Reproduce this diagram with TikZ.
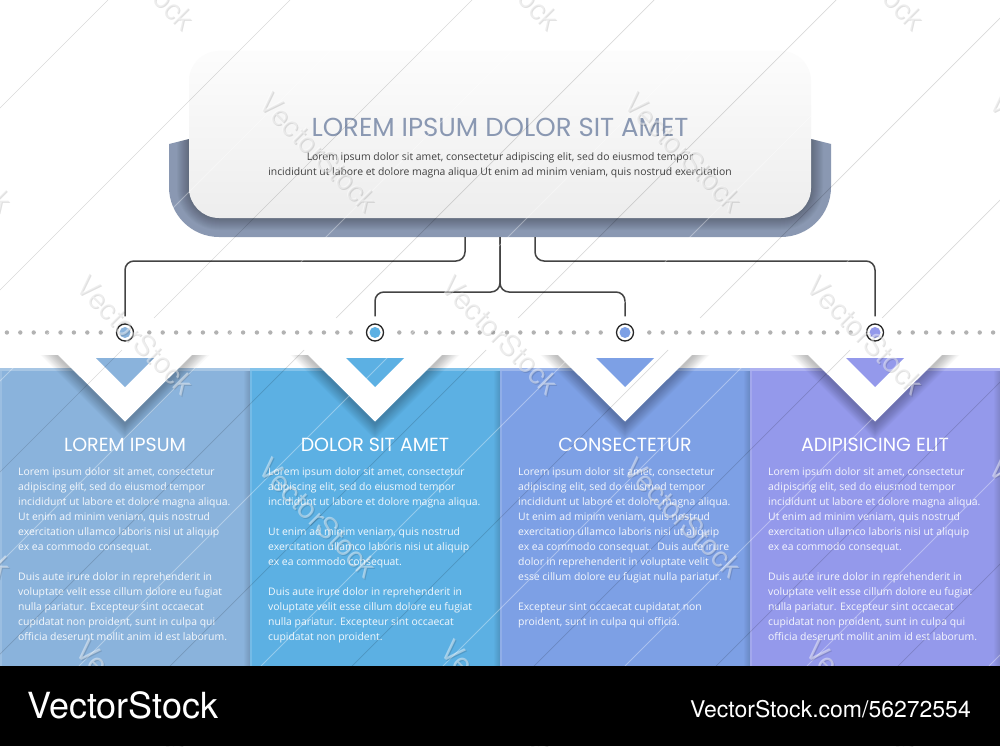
\documentclass[tikz,border=0pt]{standalone}
\usepackage{fontspec}
\usepackage{tikz}
\usetikzlibrary{calc}
\newfontfamily\headfont{Poppins}
\newfontfamily\bodyfont{Open Sans}
\newfontfamily\markfont{TeX Gyre Heros}
\definecolor{paneA}{HTML}{8AB3DC}
\definecolor{paneB}{HTML}{5CB0E3}
\definecolor{paneC}{HTML}{7DA0E5}
\definecolor{paneD}{HTML}{9499EB}
\definecolor{slate}{HTML}{8A98B2}
\definecolor{wire}{HTML}{444444}
\tikzset{
	link/.style={line width=1.5pt, wire, rounded corners=9pt, shorten >=7pt},
	dotnode/.style={circle, draw=black!85, line width=1.3pt, fill=white, minimum size=17pt, inner sep=0pt},
	headtext/.style={white, inner sep=0pt, font=\headfont\fontsize{19}{19}\selectfont},
	bodytext/.style={anchor=north west, align=left, inner sep=0pt, white, text opacity=.92, font=\bodyfont\fontsize{10.4}{15}\selectfont},
	wmtext/.style={rotate=-45, inner sep=0pt, font=\markfont\fontsize{29}{29}\selectfont},
	wmline/.style={line width=.7pt, black, opacity=.15},
	wmlight/.style={line width=.8pt, white, opacity=.35},
}
\begin{document}
\begin{tikzpicture}[x=1pt, y=-1pt]
		\useasboundingbox (0,0) rectangle (1000,746);
		\fill[white] (0,0) rectangle (1000,746);
		% panels
		\foreach \px/\col in {0/paneA,250/paneB,500/paneC,750/paneD} {
			\fill[\col] (\px,368) rectangle (\px+250,666);
			\fill[white, opacity=.25] (\px,368) rectangle (\px+250,371);
			\fill[white, opacity=.15] (\px,371) rectangle (\px+2,666);
			\foreach \w in {1,...,6}
				\fill[black, opacity=.02] (\px+250-\w,371) rectangle (\px+250,666);
		}
		% chevrons
		\foreach \cx/\col in {125/paneA,375/paneB,625/paneC,875/paneD} {
			\begin{scope}[shift={(\cx,0)}]
				\begin{scope}
					\clip (-90,355) rectangle (90,445);
					\foreach \w in {2,4,...,22}
						\draw[black, opacity=.022, line width=\w pt] (-90,334) -- (0,424) -- (90,334);
				\end{scope}
				\fill[white] (-90,332) -- (0,421.5) -- (90,332) -- cycle;
				\fill[\col] (-29,358) -- (29,358) -- (0,387) -- cycle;
			\end{scope}
		}
		% band and card
		\fill[slate] (189,139) -- (169,144) -- (169,187) arc (180:90:50) -- (781,237) arc (90:0:50) -- (831,144) -- (811,139) -- cycle;
		\begin{scope}
			\clip (189,139) -- (169,144) -- (169,187) arc (180:90:50) -- (781,237) arc (90:0:50) -- (831,144) -- (811,139) -- cycle;
			\foreach \w in {2,4,...,24}
				\draw[black, opacity=.022, line width=\w pt, rounded corners=30pt] (189,51) rectangle (811,218);
		\end{scope}
		\shade[top color=white!99!black, bottom color=black!7, rounded corners=30pt] (189,51) rectangle (811,218);
		\node[inner sep=0pt, slate, font=\headfont\fontsize{26}{26}\selectfont] (title) at (500,127) {LOREM IPSUM DOLOR SIT AMET};
		\node[inner sep=0pt, align=center, black!75, font=\bodyfont\fontsize{10.4}{15}\selectfont] (intro) at (500,165.5) {Lorem ipsum dolor sit amet, consectetur adipiscing elit, sed do eiusmod tempor\\incididunt ut labore et dolore magna aliqua Ut enim ad minim veniam, quis nostrud exercitation};
		% dotted rule
		\foreach \cx in {125,375,625,875}
			\foreach \k in {0,...,7} {
				\fill[black!30] (\cx+24.3+13.4*\k,332.5) circle (2.2);
				\fill[black!30] (\cx-24.3-13.4*\k,332.5) circle (2.2);
			}
		% connectors
		\coordinate (tapA) at (465,237);
		\coordinate (tapB) at (500,237);
		\coordinate (tapC) at (535,237);
		\node[dotnode] (dotA) at (125,332.5) {};
		\node[dotnode] (dotB) at (375,332.5) {};
		\node[dotnode] (dotC) at (625,332.5) {};
		\node[dotnode] (dotD) at (875,332.5) {};
		\fill[paneA] (dotA) circle (5.5);
		\fill[paneB] (dotB) circle (5.5);
		\fill[paneC] (dotC) circle (5.5);
		\fill[paneD] (dotD) circle (5.5);
		\draw[link] (tapA) -- (tapA |- 0,261) -- (dotA |- 0,261) -- (dotA.north);
		\draw[link] (tapB) -- (tapB |- 0,292) -- (dotB |- 0,292) -- (dotB.north);
		\draw[link] (tapB) -- (tapB |- 0,292) -- (dotC |- 0,292) -- (dotC.north);
		\draw[link] (tapC) -- (tapC |- 0,261) -- (dotD |- 0,261) -- (dotD.north);
		% panel texts
		\node[headtext] (headA) at (125,445) {LOREM IPSUM};
		\node[headtext] (headB) at (375,445) {DOLOR SIT AMET};
		\node[headtext] (headC) at (625,445) {CONSECTETUR};
		\node[headtext] (headD) at (875,445) {ADIPISICING ELIT};
		\node[bodytext] (textA) at (18,467) {Lorem ipsum dolor sit amet, consectetur\\adipiscing elit, sed do eiusmod tempor\\incididunt ut labore et dolore magna aliqua.\\Ut enim ad minim veniam, quis nostrud\\exercitation ullamco laboris nisi ut aliquip\\ex ea commodo consequat.\\[15pt]Duis aute irure dolor in reprehenderit in\\voluptate velit esse cillum dolore eu fugiat\\nulla pariatur. Excepteur sint occaecat\\cupidatat non proident, sunt in culpa qui\\officia deserunt mollit anim id est laborum.};
		\node[bodytext] (textB) at (268,467) {Lorem ipsum dolor sit amet, consectetur\\adipiscing elit, sed do eiusmod tempor\\incididunt ut labore et dolore magna aliqua.\\[15pt]Ut enim ad minim veniam, quis nostrud\\exercitation ullamco laboris nisi ut aliquip\\ex ea commodo consequat.\\[15pt]Duis aute irure dolor in reprehenderit in\\voluptate velit esse cillum dolore eu fugiat\\nulla pariatur. Excepteur sint occaecat\\cupidatat non proident.};
		\node[bodytext] (textC) at (518,467) {Lorem ipsum dolor sit amet, consectetur\\adipiscing elit, sed do eiusmod tempor\\incididunt ut labore et dolore magna aliqua.\\Ut enim ad minim veniam, quis nostrud\\exercitation ullamco laboris nisi ut aliquip\\ex ea commodo consequat.\ \ Duis aute irure\\dolor in reprehenderit in voluptate velit\\esse cillum dolore eu fugiat nulla pariatur.\\[15pt]Excepteur sint occaecat cupidatat non\\proident, sunt in culpa qui officia.};
		\node[bodytext] (textD) at (768,467) {Lorem ipsum dolor sit amet, consectetur\\adipiscing elit, sed do eiusmod tempor\\incididunt ut labore et dolore magna aliqua.\\Ut enim ad minim veniam, quis nostrud\\exercitation ullamco laboris nisi ut aliquip\\ex ea commodo consequat.\\[15pt]Duis aute irure dolor in reprehenderit in\\voluptate velit esse cillum dolore eu fugiat\\nulla pariatur. Excepteur sint occaecat\\cupidatat non proident, sunt in culpa qui\\officia deserunt mollit anim id est laborum.};
		% diagonal lines and stamps
		\foreach \c in {108,290,...,1564} {
			\draw[wmline] (\c,0) -- (\c-318,318);
			\draw[wmline] (\c-350,350) -- (\c-666,666);
		}
		\foreach \c in {199,381,...,1655}
			\draw[wmlight] (\c,0) -- (\c-666,666);
		\foreach \wx/\wy [count=\n] in {135/-30,500/-30,865/-30,-47/152,318/152,683/152,1048/152,135/335,500/335,865/335,-47/518,318/518,683/518,1048/518,135/700,500/700,865/700} {
			\node[wmtext, black, opacity=.12] (wmshade\n) at (\wx+1,\wy+1) {VectorStock};
			\node[wmtext, white, opacity=.45] (wm\n) at (\wx,\wy) {VectorStock};
		}
		% black bar
		\fill[black] (0,666) rectangle (1000,746);
		\node[anchor=west, inner sep=0pt, white, font=\markfont\fontsize{36}{36}\selectfont] (brand) at (27,705.5) {VectorStock};
		\node[anchor=east, inner sep=0pt, white, font=\markfont\fontsize{23}{23}\selectfont] (stockid) at (971,709) {VectorStock.com/56272554};
\end{tikzpicture}
\end{document}
